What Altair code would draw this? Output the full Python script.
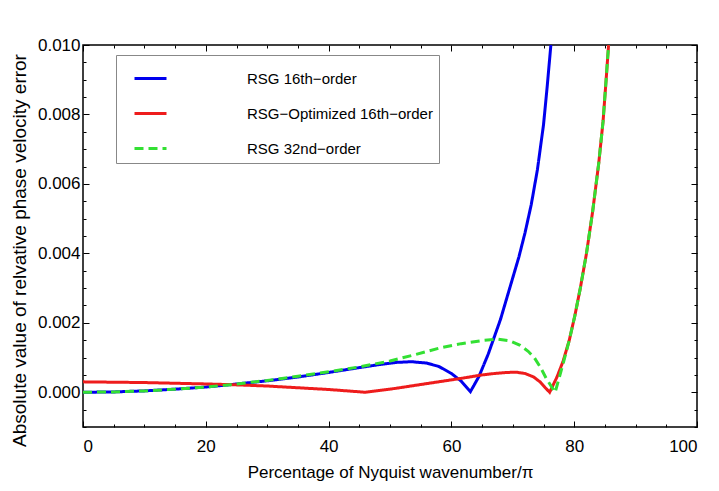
import altair as alt
import pandas as pd

# ---------------- data ----------------
names = ["RSG 16th−order", "RSG−Optimized 16th−order", "RSG 32nd−order"]

x_blue = [0, 5, 10, 15, 20, 24, 30, 35, 40, 45, 48, 51, 53.5, 56, 58, 60, 61.6,
          63.1, 64.5, 66, 67, 68, 69, 70, 71, 72, 73, 74, 75, 75.6, 76.2]
y_blue = [0.0, 0.00001, 0.00004, 0.00009, 0.00015, 0.00022, 0.00033, 0.00044,
          0.00057, 0.00071, 0.00079, 0.00086, 0.00088, 0.00084, 0.00074, 0.00054,
          0.00032, 0.00002, 0.00046, 0.0011, 0.0016, 0.0021, 0.0027, 0.0033,
          0.0039, 0.0046, 0.0054, 0.0064, 0.0077, 0.0088, 0.0100]

x_red = [0, 5, 10, 15, 20, 24, 30, 35, 40, 46, 50.8, 56, 61.6, 65, 67, 69, 70.5,
         72, 73.4, 74.5, 75.3, 76, 77.2, 78.2, 79.2, 80.1, 81, 82, 83, 84, 84.7,
         85.2, 85.6]
y_red = [0.0003, 0.00029, 0.00028, 0.00026, 0.00024, 0.00022, 0.00018, 0.00013,
         0.00008, 0.0, 0.00011, 0.00025, 0.0004, 0.0005, 0.00054, 0.00057, 0.00058,
         0.00054, 0.00044, 0.00029, 0.00013, 0.0, 0.00044, 0.0009, 0.0015, 0.0022,
         0.003, 0.004, 0.0052, 0.0066, 0.0078, 0.009, 0.0100]

x_green = [0, 5, 10, 15, 20, 24, 30, 35, 40, 45, 50, 54, 58, 61.6, 65, 67.5, 69.5,
           71.2, 72.5, 73.5, 74.5, 75.5, 76.9, 78.2, 79.2, 80.1, 81, 82, 83, 84,
           84.7, 85.2, 85.6]
y_green = [0.0, 0.00001, 0.00004, 0.00009, 0.00015, 0.00022, 0.00034, 0.00046,
           0.00059, 0.00073, 0.0009, 0.00108, 0.00127, 0.0014, 0.00149, 0.00153,
           0.00148, 0.00135, 0.00118, 0.001, 0.00072, 0.00038, 0.0, 0.00083,
           0.0015, 0.0022, 0.003, 0.004, 0.0052, 0.0066, 0.0078, 0.009, 0.0100]

x_major = [0, 20, 40, 60, 80, 100]
x_ticks = list(range(0, 101, 5))
y_major = [0.0, 0.002, 0.004, 0.006, 0.008, 0.010]
y_ticks = [round(-0.001 + 0.0005 * i, 4) for i in range(23)]

colors = ["#0000ee", "#ee1c1c", "#33e033"]
dashes = [[1, 0], [1, 0], [9, 5]]

# ---------------- layout ----------------
W, H = 614, 382
FONT = "Liberation Sans"

df_blue = pd.DataFrame({"x": x_blue, "y": y_blue, "series": names[0]})
df_red = pd.DataFrame({"x": x_red, "y": y_red, "series": names[1]})
df_green = pd.DataFrame({"x": x_green, "y": y_green, "series": names[2]})

xscale = alt.Scale(domain=[0, 100], nice=False, zero=False)
yscale = alt.Scale(domain=[-0.001, 0.010], nice=False, zero=False)

leg = alt.Legend(
    title=None, orient="none", legendX=33, legendY=10,
    symbolType="stroke", symbolSize=1024, symbolStrokeWidth=3, symbolOffset=11,
    labelFont=FONT, labelFontSize=15, labelColor="black", labelOffset=79,
    labelLimit=400, padding=6, rowPadding=9,
    strokeColor="#888888", fillColor="white",
)
color = alt.Color("series:N", scale=alt.Scale(domain=names, range=colors), legend=leg)
dash = alt.StrokeDash("series:N", scale=alt.Scale(domain=names, range=dashes), legend=leg)

x_tick_size = {"condition": {"test": "datum.value % 20 === 0", "value": 6}, "value": 3}
y_tick_size = {"condition": {"test": "abs(datum.value*500 - round(datum.value*500)) < 0.001",
                             "value": 6}, "value": 3}

ax_x_lab = alt.Axis(orient="bottom", values=x_major, ticks=False, domain=False, grid=False,
                    labelFont=FONT, labelFontSize=17, labelColor="black", labelPadding=11,
                    title="Percentage of Nyquist wavenumber/π", titleFont=FONT,
                    titleFontSize=17, titleFontWeight="normal", titleColor="black",
                    titlePadding=10)
ax_y_lab = alt.Axis(orient="left", values=y_major, format=".3f", ticks=False, domain=False,
                    grid=False, labelFont=FONT, labelFontSize=17, labelColor="black",
                    labelPadding=3,
                    title="Absolute value of relvative phase velocity error", titleFont=FONT,
                    titleFontSize=19, titleFontWeight="normal", titleColor="black",
                    titlePadding=8, titleY=205)


def tick_axis(orient, offset, values, size):
    return alt.Axis(orient=orient, offset=offset, values=values, labels=False, domain=False,
                    grid=False, ticks=True, tickSize=size, tickColor="black", tickWidth=1,
                    title=None)


blue = alt.Chart(df_blue).mark_line(strokeWidth=3, clip=True).encode(
    x=alt.X("x:Q", scale=xscale, axis=ax_x_lab),
    y=alt.Y("y:Q", scale=yscale, axis=ax_y_lab),
    color=color, strokeDash=dash,
)
red = alt.Chart(df_red).mark_line(strokeWidth=3, clip=True).encode(
    x=alt.X("x:Q", scale=xscale, axis=tick_axis("top", -H, x_ticks, x_tick_size)),
    y=alt.Y("y:Q", scale=yscale, axis=tick_axis("right", -W, y_ticks, y_tick_size)),
    color=color, strokeDash=dash,
)
green = alt.Chart(df_green).mark_line(strokeWidth=3, clip=True).encode(
    x=alt.X("x:Q", scale=xscale, axis=tick_axis("bottom", -H, x_ticks, x_tick_size)),
    y=alt.Y("y:Q", scale=yscale, axis=tick_axis("left", -W, y_ticks, y_tick_size)),
    color=color, strokeDash=dash,
)

chart = alt.layer(blue, red, green).resolve_axis(
    x="independent", y="independent"
).properties(
    width=W, height=H,
    autosize=alt.AutoSizeParams(type="none"),
    padding={"left": 75, "top": 37, "right": 14, "bottom": 60},
).configure_view(stroke="black", strokeWidth=1.5)

chart.save("out.html", embed_options={"renderer": "svg", "actions": False})
